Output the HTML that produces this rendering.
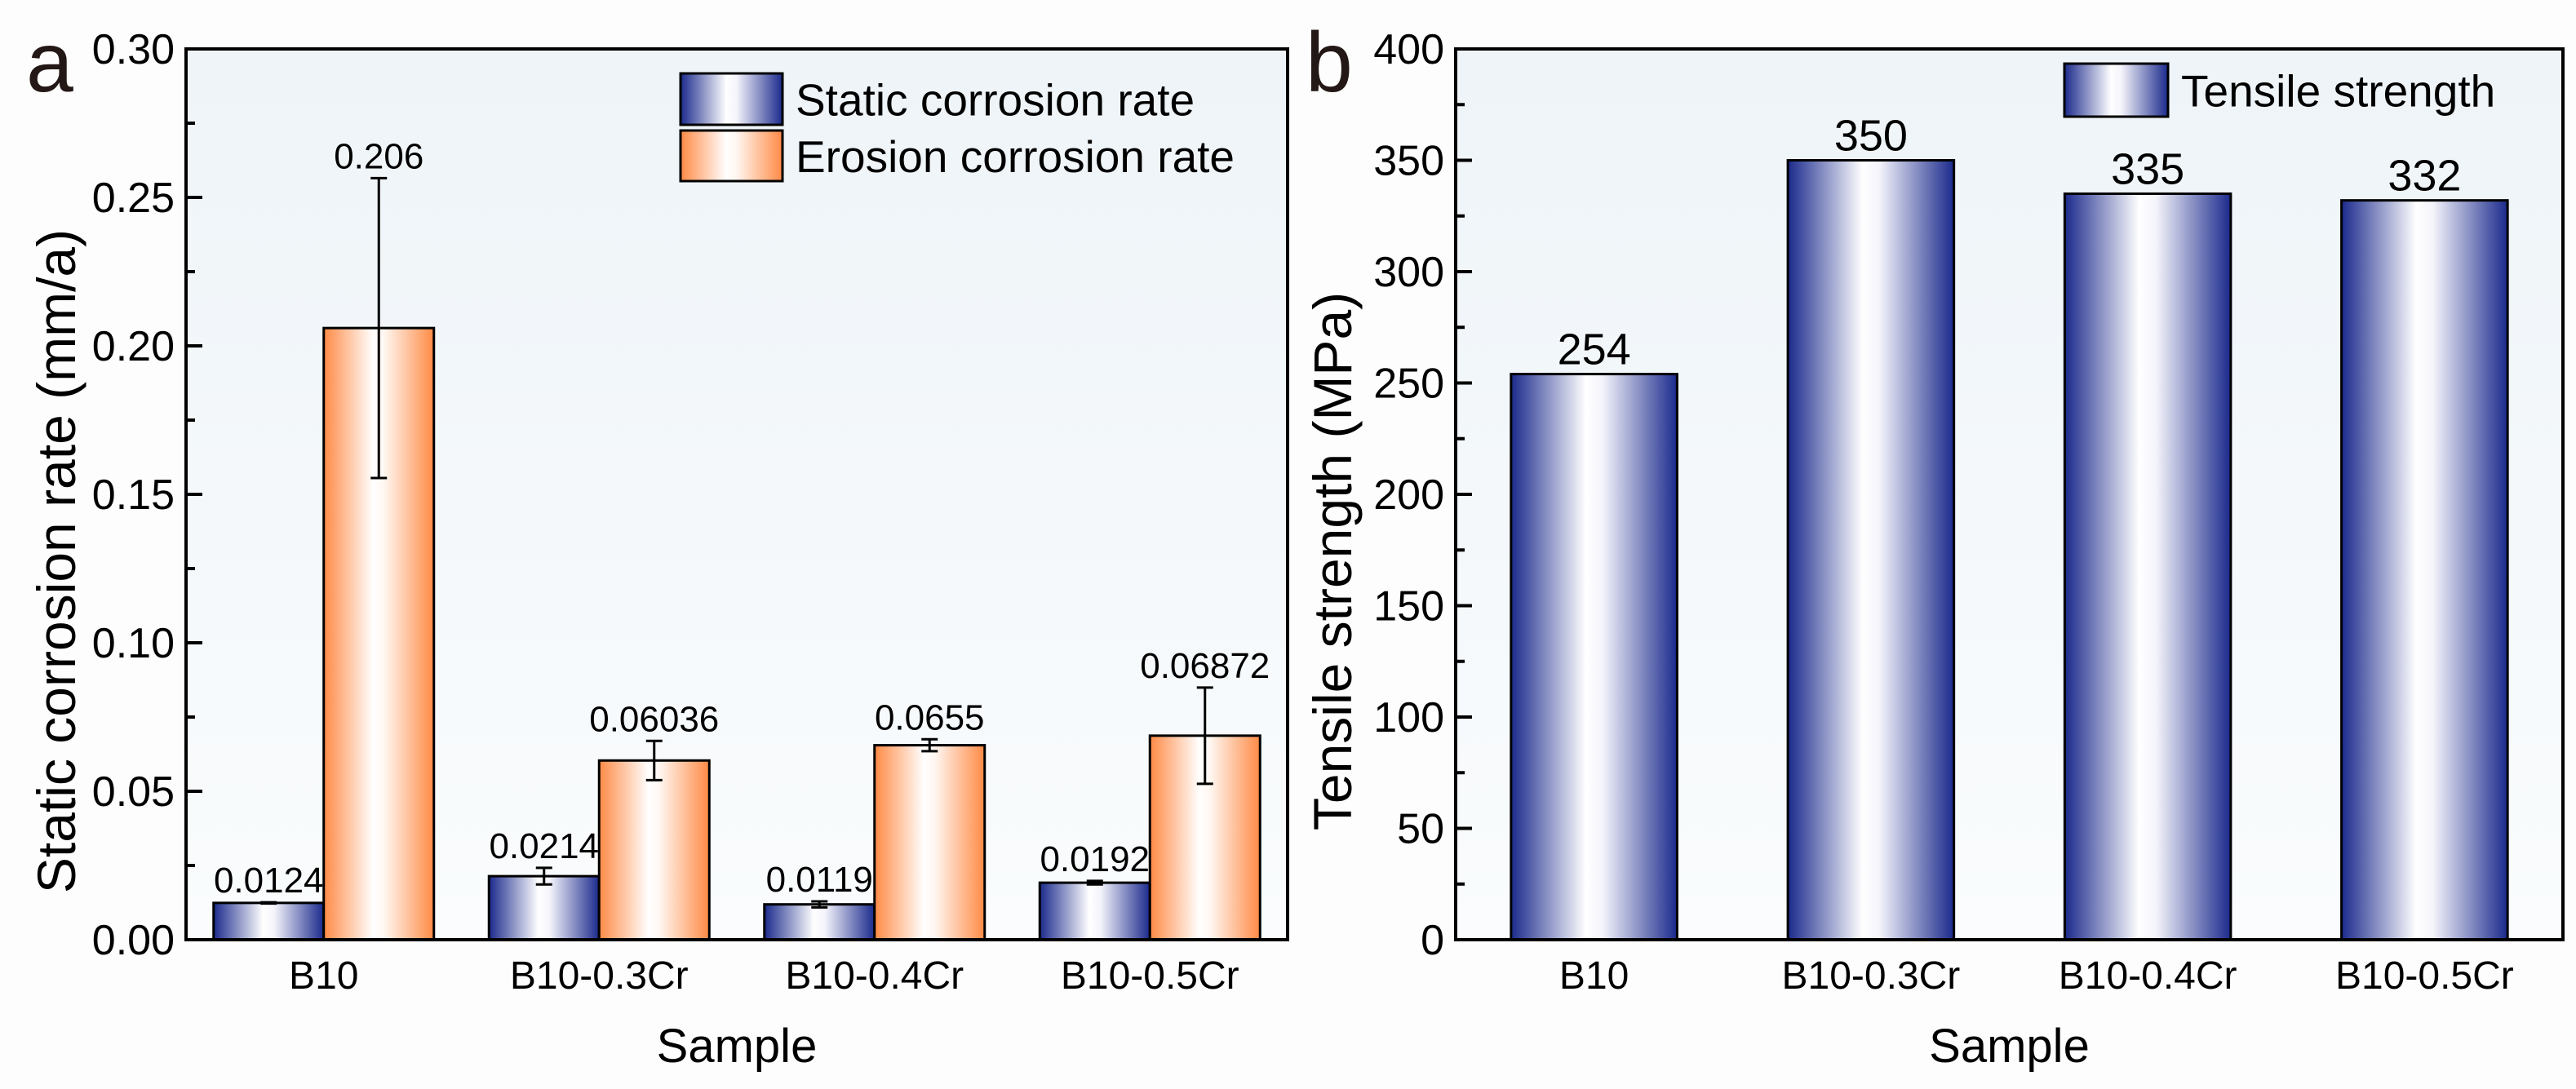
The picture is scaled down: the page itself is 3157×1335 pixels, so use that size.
<!DOCTYPE html>
<html><head><meta charset="utf-8"><style>
html,body{margin:0;padding:0;background:#fdfdfd;}
svg{display:block;font-family:"Liberation Sans",Arial,sans-serif;}
</style></head><body>
<svg id="chart" width="3157" height="1335" viewBox="0 0 3157 1335" xmlns="http://www.w3.org/2000/svg">
<defs>
<linearGradient id="gBlue" x1="0" x2="1" y1="0" y2="0">
<stop offset="0" stop-color="#1b2a8c"/><stop offset="0.45" stop-color="#ffffff"/><stop offset="0.55" stop-color="#f4f4fb"/><stop offset="1" stop-color="#1b2a8c"/></linearGradient>
<linearGradient id="gOrange" x1="0" x2="1" y1="0" y2="0">
<stop offset="0" stop-color="#ff8a45"/><stop offset="0.45" stop-color="#ffffff"/><stop offset="0.55" stop-color="#fff6f0"/><stop offset="1" stop-color="#ff8a45"/></linearGradient>
<linearGradient id="gBg" x1="0" x2="0" y1="0" y2="1">
<stop offset="0" stop-color="#eef4f8"/><stop offset="1" stop-color="#fafcfd"/></linearGradient>
</defs>
<g id="root"></g>
</svg>
<script>
const categories = ["B10","B10-0.3Cr","B10-0.4Cr","B10-0.5Cr"];
const staticRate = [0.0124,0.0214,0.0119,0.0192];
const staticErr = [0.0002,0.0028,0.0010,0.0006];
const staticLabels = ["0.0124","0.0214","0.0119","0.0192"];
const erosionRate = [0.206,0.06036,0.0655,0.06872];
const erosionErr = [0.0505,0.0066,0.0020,0.0162];
const erosionLabels = ["0.206","0.06036","0.0655","0.06872"];
const ticksA = [0,0.05,0.10,0.15,0.20,0.25,0.30];
const tickLabelsA = ["0.00","0.05","0.10","0.15","0.20","0.25","0.30"];
const tensile = [254,350,335,332];
const ticksB = [0,50,100,150,200,250,300,350,400];

const NS="http://www.w3.org/2000/svg";
const root=document.getElementById('root');
function mk(tag,attrs,parent,text){const e=document.createElementNS(NS,tag);for(const k in attrs)e.setAttribute(k,attrs[k]);if(text!==undefined)e.textContent=text;(parent||root).appendChild(e);return e;}

function panel(o){
  const g=mk('g',{});
  
  
  const yS=v=>o.bottom-(v-o.ymin)/(o.ymax-o.ymin)*(o.bottom-o.top);
  const band=(o.right-o.left)/categories.length;
  const xC=i=>o.left+band*(i+0.5);
  const bg=mk('rect',{x:o.left,y:o.top,width:o.right-o.left,height:o.bottom-o.top,fill:'url(#gBg)'},g);
  
  
  o.ticks.forEach((t,i)=>{
    const y=yS(t);
    const tk=mk('line',{x1:o.left,x2:o.left+20,y1:y,y2:y,stroke:'#000','stroke-width':4},g);
    
    
    const tl=mk('text',{x:o.left-14,y:y+18,'font-size':52,'text-anchor':'end',fill:'#000'},g,o.tickLabels[i]);
    
    
    if(i<o.ticks.length-1){
      const ym=yS((t+o.ticks[i+1])/2);
      const mt=mk('line',{x1:o.left,x2:o.left+11,y1:ym,y2:ym,stroke:'#000','stroke-width':4},g);
      
      
    }
  });
  o.series.forEach((s,si)=>{
    s.values.forEach((v,i)=>{
      const x=xC(i)+s.offset*band-s.width*band/2, w=s.width*band;
      const b=mk('rect',{x:x,y:yS(v),width:w,height:yS(0)-yS(v),fill:s.fill,stroke:'#000','stroke-width':3},g);
      
      
      let top=yS(v);
      if(s.err){
        const cx=x+w/2,y1=yS(v+s.err[i]),y2=yS(v-s.err[i]);
        const el=mk('path',{d:`M${cx},${y1}V${y2}M${cx-10},${y1}H${cx+10}M${cx-10},${y2}H${cx+10}`,stroke:'#000','stroke-width':3,fill:'none'},g);
        
        
        top=Math.min(top,y1);
      }
      const lb=mk('text',{x:x+w/2,y:top-12,'font-size':o.valSize,'text-anchor':'middle',fill:'#000'},g,s.labels[i]);
      
      
    });
  });
  categories.forEach((c,i)=>{
    const t=mk('text',{x:xC(i),y:1212,'font-size':48,'text-anchor':'middle',fill:'#000'},g,c);
    
    
  });
  const fr=mk('rect',{x:o.left,y:o.top,width:o.right-o.left,height:o.bottom-o.top,fill:'none',stroke:'#000','stroke-width':4},g);
  
  
  const xt=mk('text',{x:(o.left+o.right)/2,y:1302,'font-size':58,'text-anchor':'middle',fill:'#000'},g,'Sample');
  
  
  const yt=mk('text',{x:0,y:0,'font-size':66,'text-anchor':'middle',fill:'#000',transform:`translate(${o.ytX},688) rotate(-90)`},g,o.ytitle);
  
  
  const pl=mk('text',{x:o.letterX,y:112,'font-size':104,fill:'#231815'},g,o.letter);
  
  
  o.legend.forEach(L=>{
    const r=mk('rect',{x:L.x,y:L.y,width:L.w,height:L.h,fill:L.fill,stroke:'#000','stroke-width':3},g);
    
    
    const t=mk('text',{x:L.x+L.w+16,y:L.y+L.h/2+20,'font-size':55,fill:'#000'},g,L.text);
    
    
  });
}

panel({name:'panel-a-corrosion-chart',left:228,right:1578,top:60,bottom:1152,ymin:0,ymax:0.30,
  ticks:ticksA,tickLabels:tickLabelsA,valSize:44,ytX:92,letter:'a',letterX:32,
  ytitle:'Static corrosion rate (mm/a)',
  series:[{key:'static',values:staticRate,err:staticErr,labels:staticLabels,fill:'url(#gBlue)',offset:-0.2,width:0.4},
          {key:'erosion',values:erosionRate,err:erosionErr,labels:erosionLabels,fill:'url(#gOrange)',offset:0.2,width:0.4}],
  legend:[{x:834,y:90,w:125,h:63,fill:'url(#gBlue)',text:'Static corrosion rate'},
          {x:834,y:160,w:125,h:62,fill:'url(#gOrange)',text:'Erosion corrosion rate'}]});

panel({name:'panel-b-tensile-chart',left:1784,right:3141,top:60,bottom:1152,ymin:0,ymax:400,
  ticks:ticksB,tickLabels:ticksB.map(String),valSize:54,ytX:1656,letter:'b',letterX:1600,
  ytitle:'Tensile strength (MPa)',
  series:[{key:'tensile',values:tensile,labels:tensile.map(String),fill:'url(#gBlue)',offset:0,width:0.6}],
  legend:[{x:2530,y:78,w:127,h:65,fill:'url(#gBlue)',text:'Tensile strength'}]});
</script>
</body></html>
